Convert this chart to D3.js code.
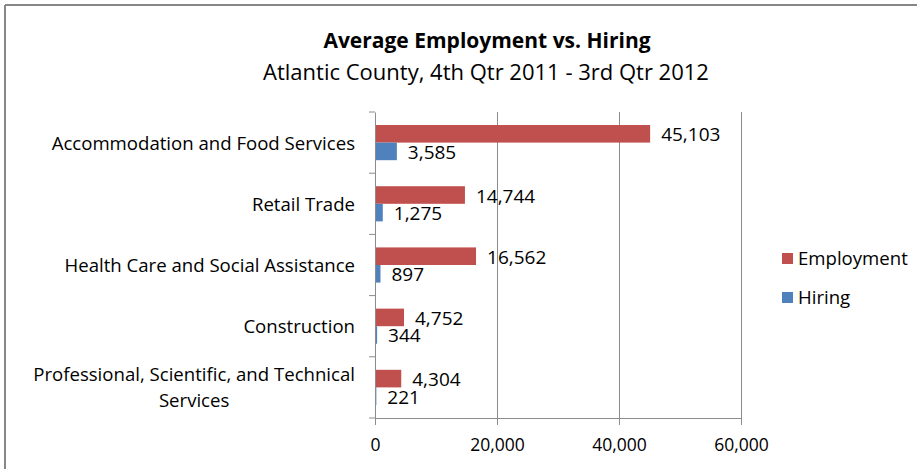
<!DOCTYPE html>
<html>
<head>
<meta charset="utf-8">
<script src="https://cdn.jsdelivr.net/npm/d3@7"></script>
<style>
  html, body { margin: 0; padding: 0; background: #fff; }
  svg { display: block; font-family: "Open Sans", "Liberation Sans", sans-serif; }
</style>
</head>
<body>
<div id="chart"></div>
<script>
(function () {
    'use strict';

    // (Atlantic County, 4th Qtr 2011 - 3rd Qtr 2012)
    const categories = [
        'Accommodation and Food Services',
        'Retail Trade',
        'Health Care and Social Assistance',
        'Construction',
        'Professional, Scientific, and Technical Services'
    ];
    const employment = [45103, 14744, 16562, 4752, 4304];
    const hiring = [3585, 1275, 897, 344, 221];
    const xTicks = [0, 20000, 40000, 60000];
    const seriesNames = ['Employment', 'Hiring'];
    const seriesColors = ['#c0504d', '#4f81bd'];

    const W = 917, H = 469;
    const plot = {left: 375, right: 741, top: 112, bottom: 418};

    const svg = d3.select('#chart').append('svg').attr('width', W).attr('height', H);

    // outer chart border (only top and left edges visible in the crop)
    svg.append('line').attr('x1', 5).attr('x2', W).attr('y1', 5).attr('y2', 5)
        .attr('stroke', '#878787').attr('stroke-width', 2);
    svg.append('line').attr('x1', 5).attr('x2', 5).attr('y1', 5).attr('y2', H)
        .attr('stroke', '#878787').attr('stroke-width', 2);

    // titles
    svg.append('text').attr('x', 487).attr('y', 48).attr('text-anchor', 'middle')
        .attr('font-size', '21px').attr('font-weight', 'bold').attr('fill', '#000')
        .text('Average Employment vs. Hiring');
    svg.append('text').attr('x', 486).attr('y', 80).attr('text-anchor', 'middle')
        .attr('font-size', '22px').attr('fill', '#000')
        .text('Atlantic County, 4th Qtr 2011 - 3rd Qtr 2012');

    const x = d3.scaleLinear().domain([0, 60000]).range([plot.left, plot.right]);
    const y = d3.scaleBand().domain(categories).range([plot.top, plot.bottom]).paddingInner(0).paddingOuter(0);
    const ySub = d3.scaleBand().domain(seriesNames).range([0, y.bandwidth()]).paddingOuter(0.74).paddingInner(0);

    // vertical gridlines
    svg.append('g')
        .attr('transform', `translate(0,${plot.bottom})`)
        .call(d3.axisBottom(x).tickValues(xTicks.slice(1)).tickSize(-(plot.bottom - plot.top)).tickFormat(''))
        .call(g => {
            g.select('.domain').remove();
            g.selectAll('line').attr('stroke', '#8c8c8c').attr('stroke-width', 1);
        });

    // bars
    const rows = categories.map((c, i) => ({cat: c, vals: [employment[i], hiring[i]]}));
    rows.forEach(r => {
        r.vals.forEach((v, j) => {
            const by = y(r.cat) + ySub(seriesNames[j]);
            svg.append('rect')
                .attr('x', x(0)).attr('y', by)
                .attr('width', x(v) - x(0)).attr('height', ySub.bandwidth())
                .attr('fill', seriesColors[j]);
            svg.append('text')
                .attr('x', x(v) + 11).attr('y', by + ySub.bandwidth() / 2 + 7.5)
                .attr('font-size', '19px').attr('fill', '#000')
                .text(d3.format(',')(v));
        });
    });

    // x axis
    svg.append('g')
        .attr('transform', `translate(0,${plot.bottom})`)
        .call(d3.axisBottom(x).tickValues(xTicks).tickSize(7).tickPadding(14).tickFormat(d3.format(',')))
        .call(g => {
            g.select('.domain').attr('stroke', '#8c8c8c');
            g.selectAll('line').attr('stroke', '#8c8c8c');
            g.selectAll('text').attr('font-size', '17.5px').attr('fill', '#000')
                .attr('font-family', '"Open Sans", sans-serif');
        });

    // y axis with Excel-style wrapped, centered labels
    svg.append('g')
        .attr('transform', `translate(${plot.left},0)`)
        .call(d3.axisLeft(y).tickSize(0).tickFormat(''))
        .call(g => g.select('.domain').attr('stroke', '#8c8c8c'));
    const catTicks = d3.range(categories.length + 1).map(i => plot.top + i * y.step());
    catTicks.forEach(t => {
        svg.append('line').attr('x1', plot.left - 6).attr('x2', plot.left)
            .attr('y1', t).attr('y2', t).attr('stroke', '#8c8c8c');
    });

    const labelRight = 355;
    const wrapLines = {'Professional, Scientific, and Technical Services': ['Professional, Scientific, and Technical', 'Services']};
    categories.forEach(c => {
        const lines = wrapLines[c] || [c];
        const cy = y(c) + y.bandwidth() / 2;
        const t = svg.append('text')
            .attr('font-size', '18.6px').attr('fill', '#000').attr('text-anchor', 'middle');
        const lineH = 26;
        lines.forEach((ln, i) => {
            t.append('tspan').attr('y', cy + 7 + (i - (lines.length - 1) / 2) * lineH).text(ln);
        });
        let maxW = 0;
        t.selectAll('tspan').each(function () { maxW = Math.max(maxW, this.getComputedTextLength()); });
        t.selectAll('tspan').attr('x', labelRight - maxW / 2);
    });

    // legend
    const legend = svg.append('g').attr('transform', 'translate(782,0)');
    seriesNames.forEach((s, i) => {
        const ly = 253 + i * 39;
        legend.append('rect').attr('x', 0).attr('y', ly).attr('width', 11).attr('height', 11)
            .attr('fill', seriesColors[i]);
        legend.append('text').attr('x', 16).attr('y', ly + 12)
            .attr('font-size', '18.6px').attr('fill', '#000').text(s);
    });
})();
</script>
</body>
</html>
